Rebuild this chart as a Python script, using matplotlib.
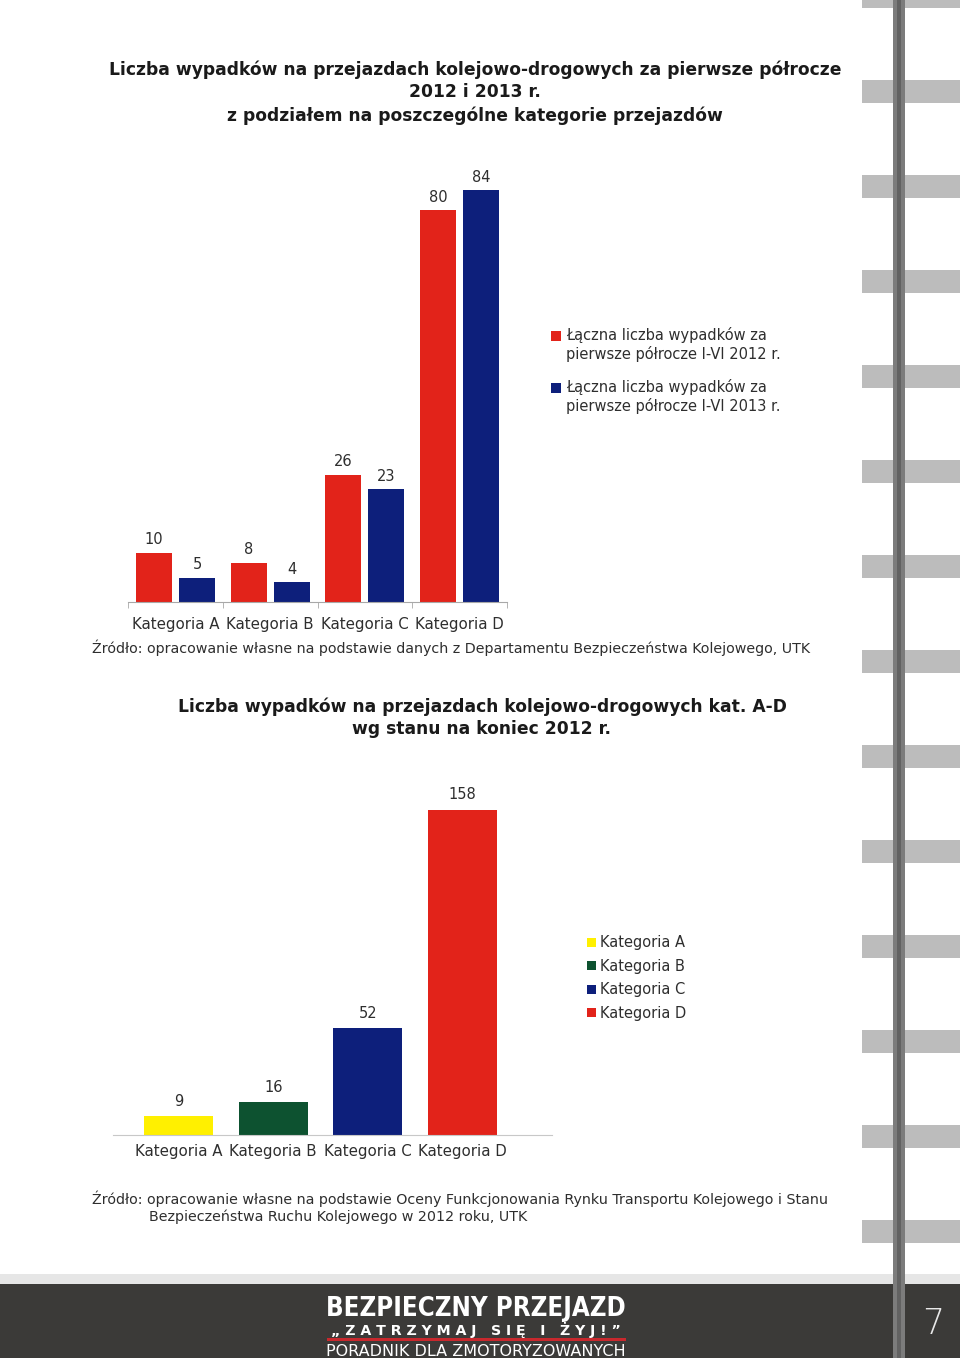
import matplotlib.pyplot as plt
from matplotlib.patches import Rectangle

# data
categories = ['Kategoria A', 'Kategoria B', 'Kategoria C', 'Kategoria D']
wypadki_2012 = [10, 8, 26, 80]
wypadki_2013 = [5, 4, 23, 84]
series_labels = ['Łączna liczba wypadków za\npierwsze półrocze I-VI 2012 r.',
                 'Łączna liczba wypadków za\npierwsze półrocze I-VI 2013 r.']
wypadki_kat_2012 = [9, 16, 52, 158]

RED = '#e2231a'
BLUE = '#0d1f7b'
YELLOW = '#fff000'
GREEN = '#0d5230'
cat_colors = [YELLOW, GREEN, BLUE, RED]
TXT = '#2e2e2e'

W, H = 960, 1358
plt.rcParams['font.family'] = ['DejaVu Sans']
fig = plt.figure(figsize=(W / 100, H / 100), dpi=100)


def px_axes(x0, y0, x1, y1, **kw):
    return fig.add_axes([x0 / W, 1 - y1 / H, (x1 - x0) / W, (y1 - y0) / H], **kw)


def ftext(x, y, s, **kw):
    return fig.text(x / W, 1 - y / H, s, **kw)


# page decoration (background)
bg = px_axes(0, 0, W, H, zorder=0)
bg.set_xlim(0, W)
bg.set_ylim(H, 0)
bg.axis('off')
for y in range(-15, 1260, 95):
    bg.add_patch(Rectangle((862, y), 98, 23, color='#bcbcbc', lw=0))
bg.add_patch(Rectangle((0, 1274), W, 10, color='#e6e6e6', lw=0))
bg.add_patch(Rectangle((0, 1284), W, 74, color='#3b3a38', lw=0))
bg.add_patch(Rectangle((893, 0), 12, H, color='#7c7c7c', lw=0))
bg.add_patch(Rectangle((897, 0), 4, H, color='#626262', lw=0))
bg.add_patch(Rectangle((327, 1338), 299, 3, color='#c8282d', lw=0))

# chart 1
ftext(475, 70, 'Liczba wypadków na przejazdach kolejowo-drogowych za pierwsze półrocze',
      ha='center', va='center', weight='bold', size=12.3, color='#1a1a1a')
ftext(475, 92, '2012 i 2013 r.', ha='center', va='center', weight='bold', size=12.3, color='#1a1a1a')
ftext(475, 116, 'z podziałem na poszczególne kategorie przejazdów',
      ha='center', va='center', weight='bold', size=12.3, color='#1a1a1a')

ax1 = px_axes(128, 170, 507, 602, zorder=2)
ax1.patch.set_alpha(0)
x = range(len(categories))
b1 = ax1.bar([i - 0.226 for i in x], wypadki_2012, width=0.38, color=RED)
b2 = ax1.bar([i + 0.228 for i in x], wypadki_2013, width=0.38, color=BLUE)
for bars, vals in ((b1, wypadki_2012), (b2, wypadki_2013)):
    for bar, v in zip(bars, vals):
        ax1.annotate(str(v), (bar.get_x() + bar.get_width() / 2, v), xytext=(0, 13),
                     textcoords='offset pixels', ha='center', va='center',
                     size=10.5, color=TXT)
ax1.set_xlim(-0.5, 3.5)
ax1.set_ylim(0, 432 / 4.9)
for s in ('top', 'right', 'left'):
    ax1.spines[s].set_visible(False)
ax1.spines['bottom'].set_color('#a8a8a8')
ax1.set_yticks([])
ax1.set_xticks(list(x))
ax1.set_xticklabels(categories, size=10.8, color=TXT)
ax1.set_xticks([-0.5, 0.5, 1.5, 2.5, 3.5], minor=True)
ax1.tick_params(axis='x', which='major', length=0, pad=10.5)
ax1.tick_params(axis='x', which='minor', length=4, color='#a8a8a8')

for (ypos, lab), col in zip(((336, series_labels[0]), (388, series_labels[1])), (RED, BLUE)):
    bg.add_patch(Rectangle((551, ypos - 5), 10, 10, color=col, lw=0))
    ftext(566, ypos - 9, lab, ha='left', va='top', size=10.5, color=TXT, linespacing=1.25)

ftext(92, 648, 'Źródło: opracowanie własne na podstawie danych z Departamentu Bezpieczeństwa Kolejowego, UTK',
      ha='left', va='center', size=10.25, color=TXT)

# chart 2
ftext(482, 707, 'Liczba wypadków na przejazdach kolejowo-drogowych kat. A-D',
      ha='center', va='center', weight='bold', size=12.3, color='#1a1a1a')
ftext(482, 729, 'wg stanu na koniec 2012 r.',
      ha='center', va='center', weight='bold', size=12.3, color='#1a1a1a')

ax2 = px_axes(113, 790, 552, 1135, zorder=2)
ax2.patch.set_alpha(0)
b3 = ax2.bar(list(x), wypadki_kat_2012, width=0.73, color=cat_colors)
for bar, v in zip(b3, wypadki_kat_2012):
    ax2.annotate(str(v), (bar.get_x() + bar.get_width() / 2, v), xytext=(0, 15),
                 textcoords='offset pixels', ha='center', va='center',
                 size=10.5, color=TXT)
ax2.set_xlim(-0.695, 3.95)
ax2.set_ylim(0, 345 / 2.057)
for s in ('top', 'right', 'left'):
    ax2.spines[s].set_visible(False)
ax2.spines['bottom'].set_color('#c8c8c8')
ax2.set_yticks([])
ax2.set_xticks(list(x))
ax2.set_xticklabels(categories, size=10.8, color=TXT)
ax2.tick_params(axis='x', length=0, pad=6.5)

for i, (cat, col) in enumerate(zip(categories, cat_colors)):
    ypos = 943 + i * 23.4
    bg.add_patch(Rectangle((587, ypos - 5), 9, 9, color=col, lw=0))
    ftext(600, ypos, cat, ha='left', va='center', size=10.5, color=TXT)

ftext(92, 1199, 'Źródło: opracowanie własne na podstawie Oceny Funkcjonowania Rynku Transportu Kolejowego i Stanu',
      ha='left', va='center', size=10.25, color=TXT)
ftext(149, 1217, 'Bezpieczeństwa Ruchu Kolejowego w 2012 roku, UTK',
      ha='left', va='center', size=10.25, color=TXT)

# footer
ftext(476, 1309, 'BEZPIECZNY PRZEJAZD', ha='center', va='center', weight='bold',
      size=18.5, color='white', stretch='condensed')
ftext(476, 1330, '„ Z A T R Z Y M A J   S I Ę   I   Ż Y J ! ”', ha='center', va='center',
      weight='bold', size=10.2, color='white')
ftext(476, 1351, 'PORADNIK DLA ZMOTORYZOWANYCH', ha='center', va='center',
      size=11.5, color='white')
ftext(933, 1324, '7', ha='center', va='center', size=25, weight='light', color='#e8e8e8')

fig.savefig('out.png', dpi=100)
